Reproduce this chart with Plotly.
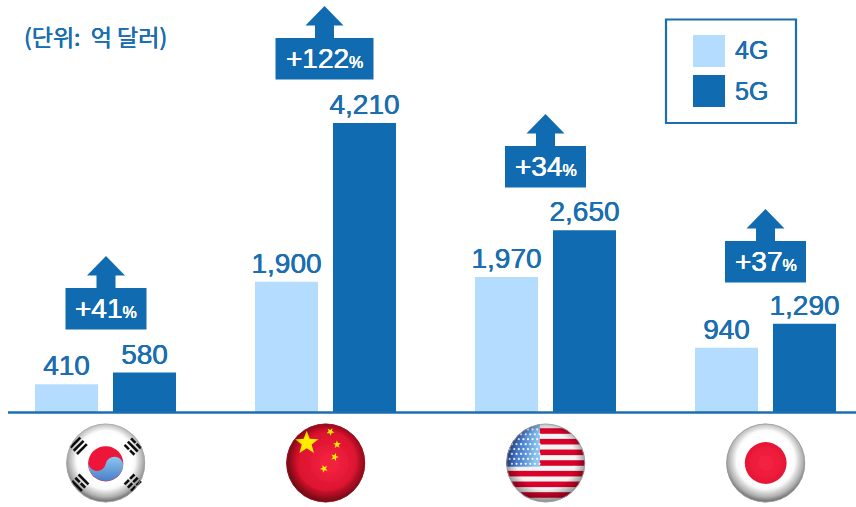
import base64
import math
import plotly.graph_objects as go

# Market size by country, in 100 million dollars
countries = ["한국", "중국", "미국", "일본"]
values_4g = [410, 1900, 1970, 940]
values_5g = [580, 4210, 2650, 1290]
growth_labels = ["+41", "+122", "+34", "+37"]
series_names = ["4G", "5G"]
unit_label = "(단위:  억 달러)"

W, H = 856, 507
BLUE = "#116bb0"
TEXT_BLUE = "#1b6eb0"
LIGHT = "#b4dcff"
FONT = "Liberation Sans, Arial, sans-serif"

# Pixel layout of the bar groups: first group centre and group pitch
GROUP_START, GROUP_STEP = 105.5, 220.0
BASELINE, PX_PER_UNIT = 412.5, 0.06876
BAR_W = 63.0


def heavier(color, d=0.25):
    # Thickens regular-weight glyphs slightly using a tight text shadow
    return f"{d}px 0 0 {color}, -{d}px 0 0 {color}"


def px(x):
    return x / W


def py(y):
    return 1 - y / H


def star(cx, cy, r, rot=-90):
    pts = []
    for i in range(10):
        rad = r if i % 2 == 0 else r * 0.42
        a = math.radians(rot + i * 36)
        pts.append(f"{cx + rad * math.cos(a):.2f},{cy + rad * math.sin(a):.2f}")
    return f'<polygon points="{" ".join(pts)}" fill="#ffee00"/>'


def trigram(cx, cy, angle, pattern):
    # Three stacked bars, each either whole or split in the middle
    out = [f'<g transform="translate({cx} {cy}) rotate({angle})" fill="#111">']
    for row, split in zip((-5.6, 0, 5.6), pattern):
        if split:
            out.append(f'<rect x="-8.5" y="{row - 1.6}" width="7.6" height="3.2"/>')
            out.append(f'<rect x="0.9" y="{row - 1.6}" width="7.6" height="3.2"/>')
        else:
            out.append(f'<rect x="-8.5" y="{row - 1.6}" width="17" height="3.2"/>')
    out.append("</g>")
    return "".join(out)


def korea():
    return (
        '<circle cx="50" cy="50" r="48" fill="url(#paper)"/>'
        + trigram(17, 29, -45, (0, 0, 0))
        + trigram(83, 30, 45, (1, 0, 1))
        + trigram(19, 74, 45, (0, 1, 0))
        + trigram(83, 74, -45, (1, 1, 1))
        + '<circle cx="50" cy="51" r="21.5" fill="#ee1238"/>'
        + '<path d="M28.6 49 A10.8 10.8 0 0 0 50 51 A10.8 10.8 0 0 1 71.4 53 '
        'A21.5 21.5 0 0 1 28.6 49 Z" fill="url(#taeBlue)"/>'
    )


def china():
    rel = [(-19, -20, 15, -90), (4.7, -31.3, 5, -60), (11.3, -18.5, 5, -20),
           (9, -6, 5, 0), (-1.7, 5.7, 5, -40)]
    stars = "".join(star(50 + x * 1.22, 50 + y * 1.22, r, rot) for x, y, r, rot in rel)
    return '<circle cx="50" cy="50" r="48" fill="url(#red)"/>' + stars


def usa():
    parts = ['<circle cx="50" cy="50" r="48" fill="#f4f4f4"/>', '<g clip-path="url(#disc)">']
    for k in range(-3, 4):
        parts.append(f'<rect x="0" y="{50 + k * 13 - 3.4}" width="100" height="6.8" fill="#d9062c"/>')
    parts.append('<rect x="0" y="0" width="43" height="54.5" fill="url(#canton)"/>')
    for row in range(8):
        for col in range(7):
            cx = 6 + col * 5.6 + (2.8 if row % 2 else 0)
            cy = 9 + row * 6
            parts.append(f'<circle cx="{cx}" cy="{cy}" r="1.35" fill="#f2f6ff"/>')
    parts.append("</g>")
    return "".join(parts)


def japan():
    return (
        '<circle cx="50" cy="50" r="48" fill="url(#paper)"/>'
        '<circle cx="50" cy="50" r="25.5" fill="url(#sun)"/>'
    )


def flag_uri(body, edge):
    svg = f'''<svg xmlns="http://www.w3.org/2000/svg" width="100" height="100" viewBox="0 0 100 100">
<defs>
<radialGradient id="paper" cx="50%" cy="45%" r="55%"><stop offset="0.6" stop-color="#ffffff"/><stop offset="0.88" stop-color="#ececec"/><stop offset="1" stop-color="#b5b5b5"/></radialGradient>
<radialGradient id="red" cx="55%" cy="50%" r="55%"><stop offset="0.2" stop-color="#f0203e"/><stop offset="0.75" stop-color="#d8112c"/><stop offset="1" stop-color="#a20d1c"/></radialGradient>
<radialGradient id="sun" cx="50%" cy="50%" r="55%"><stop offset="0.3" stop-color="#f2203f"/><stop offset="1" stop-color="#e41535"/></radialGradient>
<linearGradient id="taeBlue" x1="0" y1="0" x2="0" y2="1"><stop offset="0" stop-color="#8cc6f0"/><stop offset="1" stop-color="#4a7fc8"/></linearGradient>
<linearGradient id="canton" x1="0" y1="0" x2="1" y2="0.2"><stop offset="0" stop-color="#1c3f9c"/><stop offset="0.6" stop-color="#4f86d4"/><stop offset="1" stop-color="#8cc4ee"/></linearGradient>
<radialGradient id="shade" cx="50%" cy="46%" r="52%"><stop offset="0.72" stop-color="#000" stop-opacity="0"/><stop offset="1" stop-color="#000" stop-opacity="0.38"/></radialGradient>
<clipPath id="disc"><circle cx="50" cy="50" r="48"/></clipPath>
<filter id="soft"><feGaussianBlur stdDeviation="0.45"/></filter>
</defs>
<g filter="url(#soft)">{body}<circle cx="50" cy="50" r="48" fill="url(#shade)"/><circle cx="50" cy="50" r="47.6" fill="none" stroke="{edge}" stroke-width="1"/></g>
</svg>'''
    return "data:image/svg+xml;base64," + base64.b64encode(svg.encode("utf-8")).decode("ascii")


flag_bodies = [(korea(), "#a8a8a8"), (china(), "#9c1020"), (usa(), "#999999"), (japan(), "#9a9a9a")]

fig = go.Figure()
for name, values, color, offset_px in (
    (series_names[0], values_4g, LIGHT, -70.5),
    (series_names[1], values_5g, BLUE, 7.5),
):
    fig.add_trace(go.Bar(
        name=name, x=countries, y=values,
        marker=dict(color=color, line=dict(width=0)),
        width=BAR_W / GROUP_STEP, offset=offset_px / GROUP_STEP,
        text=[f"{v:,}" for v in values], textposition="outside",
        textangle=0, cliponaxis=False, constraintext="none",
        textfont=dict(family=FONT, size=28, color=TEXT_BLUE, shadow=heavier(TEXT_BLUE)),
    ))

shapes, annotations, images = [], [], []

# Baseline
shapes.append(dict(type="line", xref="paper", yref="y", x0=px(8), x1=1, y0=0, y1=0,
                   line=dict(color=TEXT_BLUE, width=2.5)))

# Growth badges with an arrow on top
badge_tops = [288, 38, 146, 241]
badge_widths = [81, 98, 81, 81]
BADGE_H = 41.5
for i, label in enumerate(growth_labels):
    cx = GROUP_START + i * GROUP_STEP + (0.0 if i else 0.5) - (1.0 if i == 1 else 0.0)
    top, bw = badge_tops[i], badge_widths[i]
    shapes.append(dict(type="rect", xref="paper", yref="paper", x0=px(cx - bw / 2), x1=px(cx + bw / 2),
                       y0=py(top + BADGE_H), y1=py(top), fillcolor=BLUE, line=dict(width=0)))
    arrow = [(cx, top - 32), (cx + 19, top - 12.5), (cx + 9.5, top - 12.5), (cx + 9.5, top),
             (cx - 9.5, top), (cx - 9.5, top - 12.5), (cx - 19, top - 12.5)]
    path = "M" + " L".join(f"{px(a):.5f},{py(b):.5f}" for a, b in arrow) + " Z"
    shapes.append(dict(type="path", xref="paper", yref="paper", path=path, fillcolor=BLUE, line=dict(width=0)))
    annotations.append(dict(
        xref="paper", yref="paper", x=px(cx), y=py(top + BADGE_H / 2), showarrow=False,
        xanchor="center", yanchor="middle",
        text=f'{label}<span style="font-size:16px">%</span>',
        font=dict(family=FONT, size=28, color="white", shadow=heavier("white")),
    ))
    body, edge = flag_bodies[i]
    fx = GROUP_START + i * GROUP_STEP + 0.2
    images.append(dict(source=flag_uri(body, edge), xref="paper", yref="paper",
                       x=px(fx - 41), y=py(463 - 41), sizex=82 / W, sizey=82 / H,
                       xanchor="left", yanchor="top", sizing="stretch", layer="above"))

# Series key
shapes.append(dict(type="rect", xref="paper", yref="paper", x0=px(666), x1=px(796), y0=py(123), y1=py(19.5),
                   fillcolor="white", line=dict(color=TEXT_BLUE, width=2.2)))
for name, color, top in ((series_names[0], LIGHT, 35), (series_names[1], BLUE, 75)):
    shapes.append(dict(type="rect", xref="paper", yref="paper", x0=px(693), x1=px(725), y0=py(top + 32), y1=py(top),
                       fillcolor=color, line=dict(width=0)))
    annotations.append(dict(xref="paper", yref="paper", x=px(733), y=py(top + 15.5), showarrow=False,
                            xanchor="left", yanchor="middle", text=name,
                            font=dict(family=FONT, size=25, color=TEXT_BLUE, shadow=heavier(TEXT_BLUE))))

# Unit note
annotations.append(dict(xref="paper", yref="paper", x=px(22), y=py(36), showarrow=False,
                        xanchor="left", yanchor="middle", text=unit_label,
                        font=dict(family="Noto Sans CJK KR", size=23, color=TEXT_BLUE,
                                  shadow=heavier(TEXT_BLUE))))

fig.update_layout(
    width=W, height=H, margin=dict(l=0, r=0, t=0, b=0, pad=0),
    paper_bgcolor="white", plot_bgcolor="white", showlegend=False,
    barmode="overlay", shapes=shapes, annotations=annotations, images=images,
    xaxis=dict(type="category", categoryorder="array", categoryarray=countries,
               range=[-GROUP_START / GROUP_STEP, (W - GROUP_START) / GROUP_STEP],
               showticklabels=False, showgrid=False, zeroline=False, showline=False, ticks=""),
    yaxis=dict(range=[-(H - BASELINE) / PX_PER_UNIT, BASELINE / PX_PER_UNIT],
               showticklabels=False, showgrid=False, zeroline=False, showline=False, ticks=""),
)

fig.write_html("out.html", config={"displayModeBar": False})
